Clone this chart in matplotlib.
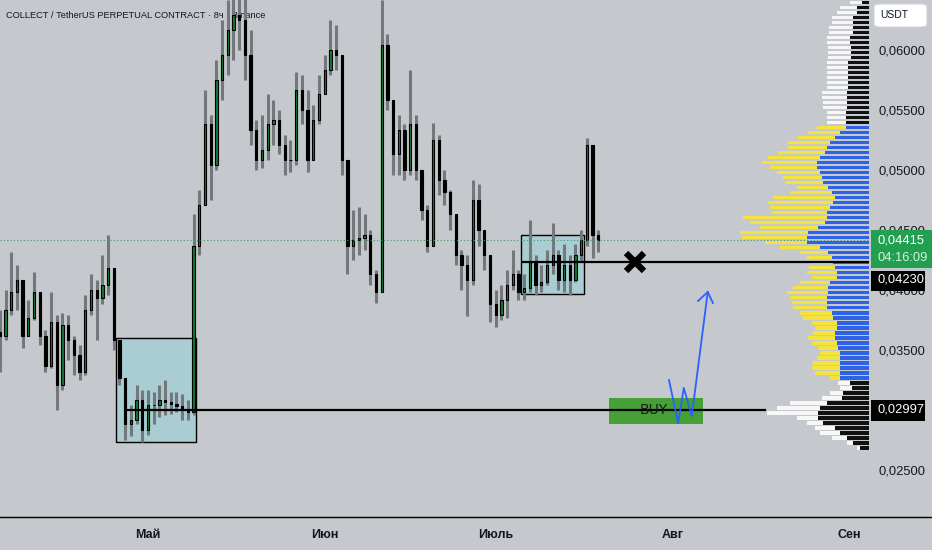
import numpy as np
import matplotlib.pyplot as plt
import matplotlib.transforms as mtransforms
from matplotlib.patches import Rectangle, FancyBboxPatch
from matplotlib.lines import Line2D

plt.rcParams['font.family'] = ['Liberation Sans', 'DejaVu Sans']

# ---------------------------------------------------------------
# Data (daily candles, day 0 = 1 May)
# ---------------------------------------------------------------
first_day = -26
first_open = 0.0365
closes = [0.0362, 0.0383, 0.0398, 0.0408, 0.0362, 0.0377, 0.0398, 0.0362, 0.0337, 0.0373,
          0.0321, 0.0371, 0.0358, 0.0346, 0.0332, 0.0383, 0.0400, 0.0393, 0.0404, 0.0418,
          0.0358, 0.0327, 0.0288, 0.0292, 0.0308, 0.0283, 0.0304, 0.0304, 0.0308, 0.0307,
          0.0305, 0.0303, 0.0300, 0.0298, 0.0437, 0.0471, 0.0538, 0.0504, 0.0575, 0.0596,
          0.0617, 0.0629, 0.0625, 0.0596, 0.0533, 0.0508, 0.0517, 0.0538, 0.0542, 0.0521,
          0.0508, 0.0508, 0.0567, 0.0550, 0.0508, 0.0542, 0.0563, 0.0583, 0.0600, 0.0596,
          0.0508, 0.0437, 0.0442, 0.0443, 0.0446, 0.0413, 0.0398, 0.0604, 0.0558, 0.0513,
          0.0533, 0.0500, 0.0538, 0.0500, 0.0467, 0.0437, 0.0525, 0.0492, 0.0482, 0.0463,
          0.0429, 0.0421, 0.0408, 0.0475, 0.0450, 0.0429, 0.0388, 0.0379, 0.0392, 0.0404,
          0.0413, 0.0398, 0.0402, 0.0423, 0.0404, 0.0407, 0.0421, 0.0429, 0.0408, 0.0421,
          0.0408, 0.0429, 0.0442, 0.0521, 0.0446, 0.04415]
highs = [0.0383, 0.0400, 0.0432, 0.0421, 0.0400, 0.0392, 0.0415, 0.0392, 0.0367, 0.0398,
         0.0379, 0.0381, 0.0379, 0.0362, 0.0354, 0.0396, 0.0413, 0.0408, 0.0429, 0.0446,
         0.0417, 0.0354, 0.0313, 0.0304, 0.0321, 0.0317, 0.0317, 0.0315, 0.0321, 0.0325,
         0.0315, 0.0315, 0.0313, 0.0308, 0.0463, 0.0483, 0.0567, 0.0546, 0.0592, 0.0625,
         0.0642, 0.0658, 0.0658, 0.0646, 0.0617, 0.0542, 0.0546, 0.0563, 0.0558, 0.0550,
         0.0529, 0.0525, 0.0582, 0.0579, 0.0567, 0.0554, 0.0579, 0.0596, 0.0625, 0.0621,
         0.0558, 0.0508, 0.0467, 0.0469, 0.0463, 0.0450, 0.0417, 0.0642, 0.0613, 0.0558,
         0.0546, 0.0538, 0.0583, 0.0546, 0.0492, 0.0471, 0.0539, 0.0529, 0.0500, 0.0483,
         0.0463, 0.0433, 0.0429, 0.0492, 0.0488, 0.0446, 0.0421, 0.0400, 0.0404, 0.0417,
         0.0433, 0.0417, 0.0413, 0.0458, 0.0429, 0.0421, 0.0433, 0.0456, 0.0433, 0.0438,
         0.0429, 0.0438, 0.0450, 0.0527, 0.0517, 0.0450]
lows = [0.0332, 0.0358, 0.0379, 0.0383, 0.0352, 0.0362, 0.0375, 0.0354, 0.0332, 0.0335,
        0.0300, 0.0317, 0.0342, 0.0329, 0.0325, 0.0329, 0.0379, 0.0358, 0.0388, 0.0396,
        0.0350, 0.0321, 0.0275, 0.0278, 0.0288, 0.0273, 0.0279, 0.0288, 0.0294, 0.0296,
        0.0297, 0.0298, 0.0292, 0.0292, 0.0296, 0.0429, 0.0471, 0.0475, 0.0500, 0.0558,
        0.0579, 0.0592, 0.0600, 0.0575, 0.0521, 0.0500, 0.0502, 0.0508, 0.0521, 0.0513,
        0.0496, 0.0498, 0.0504, 0.0538, 0.0498, 0.0525, 0.0538, 0.0563, 0.0579, 0.0583,
        0.0496, 0.0413, 0.0425, 0.0429, 0.0433, 0.0404, 0.0389, 0.0400, 0.0550, 0.0496,
        0.0496, 0.0492, 0.0496, 0.0492, 0.0458, 0.0432, 0.0437, 0.0479, 0.0471, 0.0450,
        0.0421, 0.0400, 0.0378, 0.0404, 0.0437, 0.0417, 0.0373, 0.0369, 0.0375, 0.0377,
        0.0400, 0.0392, 0.0392, 0.0398, 0.0396, 0.0398, 0.0404, 0.0413, 0.0400, 0.0398,
        0.0396, 0.0407, 0.0423, 0.0437, 0.0427, 0.0432]

# volume profile rows (top row first), arbitrary volume units
vp_top = 0.06417
vp_step = 0.000417
vp_up = [7, 12, 12, 16, 16, 16, 16, 19, 19, 18, 18, 18, 21, 21, 21, 21, 21, 21, 22, 22,
         22, 22, 23, 23, 23,
         23, 29, 34, 39, 42, 44, 49, 52, 52, 49, 47, 46, 41, 37, 34, 36, 39, 42, 42, 44,
         51, 61, 62, 62, 49, 41, 37, 36, 34, 32, 32, 39, 41, 41, 42, 42, 42, 37, 36, 32,
         32, 34, 34, 32, 31, 29, 29, 29, 29, 29, 29,
         19, 17, 26, 27, 42, 49, 51, 51, 46, 34, 29, 22, 16, 9]
vp_down = [12, 17, 20, 21, 21, 24, 24, 23, 23, 23, 23, 23, 21, 21, 21, 21, 21, 21, 25, 25,
           24, 24, 19, 19, 19,
           29, 32, 37, 42, 39, 47, 52, 55, 47, 43, 39, 38, 31, 42, 62, 65, 60, 55, 84, 75,
           58, 68, 65, 42, 40, 28, 25, 23, 26, 30, 25, 30, 35, 41, 37, 35, 34, 32, 30, 25,
           22, 22, 27, 25, 20, 20, 23, 27, 28, 25, 10,
           12, 12, 13, 20, 37, 43, 51, 21, 16, 20, 20, 15, 6, 3]
va_first, va_last = 25, 75

month_days = [0, 31, 61, 92, 123]
month_names = ['Май', 'Июн', 'Июль', 'Авг', 'Сен']
price_ticks = [0.025, 0.030, 0.035, 0.040, 0.045, 0.050, 0.055, 0.060]

last_price = 0.04415
level_x = 0.04230
level_buy = 0.02997

box1 = (-5.7, 8.4, 0.0273, 0.0360)
box2 = (65.4, 76.5, 0.0397, 0.0446)
buy_box = (80.9, 97.4, 0.02884, 0.03100)
path_days = [91.4, 93.0, 94.0, 95.4, 98.2]
path_prices = [0.03250, 0.02892, 0.03184, 0.02950, 0.03984]

# ---------------------------------------------------------------
bg = '#c5c8cc'
W, H = 932, 550
fig = plt.figure(figsize=(W / 100, H / 100), dpi=100)
fig.patch.set_facecolor(bg)
ax = fig.add_axes([0, 33 / H, 869 / W, 517 / H])
ax.patch.set_visible(False)
ax.set_xlim(-148 / 5.7, 721 / 5.7)
ax.set_ylim(0.06417 - 517 / 12000, 0.06417)
for s in ax.spines.values():
    s.set_visible(False)

# volume profile behind everything
vp = ax.twiny()
vp.set_xlim(0, 869)
vp.axis('off')
ax.set_zorder(2)
vp.set_zorder(1)
vp_prices = vp_top - vp_step * (np.arange(len(vp_up)) + 0.5)
up_v = np.array(vp_up)
dn_v = np.array(vp_down)
in_va = (np.arange(len(vp_up)) >= va_first) & (np.arange(len(vp_up)) <= va_last)
col_in = np.where(in_va, '#2f63e6', '#111111')
col_out = np.where(in_va, '#f3e33a', '#f7f7f7')
vp.barh(vp_prices, -up_v, left=869, height=vp_step * 0.7, color=col_in, lw=0)
vp.barh(vp_prices, -dn_v, left=869 - up_v, height=vp_step * 0.7, color=col_out, lw=0)

# title
ax.text(6 / 869, 1 - 15 / 517, 'COLLECT / TetherUS PERPETUAL CONTRACT · 8ч · Binance',
        transform=ax.transAxes, fontsize=6.7, color='#131722', va='center', zorder=1)

# rectangles drawn by user
for x0, x1, y0, y1 in (box1, box2):
    ax.add_patch(Rectangle((x0, y0), x1 - x0, y1 - y0, facecolor='#a9cdd3',
                           edgecolor='black', lw=1, zorder=2))

# candles
c = np.array(closes)
h = np.array(highs)
l = np.array(lows)
o = np.r_[first_open, c[:-1]]
days = np.arange(first_day, first_day + len(c))
rise = c >= o
ax.vlines(days, l, h, color='#74777c', lw=2.2, zorder=3)
body = np.maximum(np.abs(c - o), 0.00006)
ax.bar(days[rise], body[rise], bottom=o[rise], width=0.4, color='#127a36',
       edgecolor='black', lw=0.8, zorder=4)
ax.bar(days[~rise], body[~rise], bottom=c[~rise], width=0.4, color='black',
       edgecolor='black', lw=0.8, zorder=4)

# levels
ax.axhline(last_price, color='#3f9a6a', lw=0.8, ls=(0, (1, 2)), zorder=5)
ax.plot([box2[0] + 0.4, ax.get_xlim()[1]], [level_x, level_x], color='black', lw=1.6, zorder=5)
ax.plot([-3.5, 108.2], [level_buy, level_buy], color='black', lw=1.6, zorder=5)

# buy zone + blue path + X
bx0, bx1, by0, by1 = buy_box
ax.add_patch(Rectangle((bx0, by0), bx1 - bx0, by1 - by0, facecolor='#45a035',
                       edgecolor='none', zorder=4))
ax.text((bx0 + bx1) / 2 - 0.4, level_buy, 'BUY', ha='center', va='center',
        fontsize=10, family='DejaVu Sans', color='#1a1a1a', zorder=6)
ax.plot(path_days, path_prices, color='#2962ff', lw=1.3, zorder=7)
ax.plot([96.5, path_days[-1], 99.1], [0.03909, path_prices[-1], 0.03892],
        color='#2962ff', lw=1.3, zorder=7)
ax.plot([85.4], [level_x], marker='x', ms=13, mew=4.5, color='black', zorder=7)

# axes ticks
ax.set_xticks(month_days)
ax.set_xticklabels(month_names, fontsize=9, fontweight='bold', color='#131722')
ax.tick_params(axis='x', length=0, pad=9)
ax.yaxis.tick_right()
ax.set_yticks(price_ticks)
ax.set_yticklabels([f'{v:.5f}'.replace('.', ',') for v in price_ticks])
ax.tick_params(axis='y', length=0, pad=6.5, labelsize=9.3, labelcolor='#131722')

fig.add_artist(Line2D([0, 1], [33 / H, 33 / H], transform=fig.transFigure,
                      color='black', lw=1))

# price-scale labels
trans = mtransforms.blended_transform_factory(fig.transFigure, ax.transData)
px = 1 / 12000


def scale_label(y_top_px, y_bot_px, x0_px, x1_px, color):
    y0 = 0.06417 - y_bot_px * px
    r = Rectangle((x0_px / W, y0), (x1_px - x0_px) / W, (y_bot_px - y_top_px) * px,
                  transform=trans, facecolor=color, edgecolor='none', clip_on=False, zorder=10)
    ax.add_patch(r)


scale_label(230, 268, 871, 932, '#22a04f')
ax.text(878 / W, 0.06417 - 240 * px, f'{last_price:.5f}'.replace('.', ','), transform=trans,
        color='white', fontsize=9.3, va='center', clip_on=False, zorder=11)
ax.text(878 / W, 0.06417 - 258 * px, '04:16:09', transform=trans,
        color='#d4f2dc', fontsize=9.3, va='center', clip_on=False, zorder=11)
scale_label(271, 291, 871, 925, 'black')
ax.text(878 / W, 0.06417 - 280 * px, f'{level_x:.5f}'.replace('.', ','), transform=trans,
        color='white', fontsize=9.3, va='center', clip_on=False, zorder=11)
scale_label(400, 421, 871, 925, 'black')
ax.text(878 / W, 0.06417 - 410 * px, f'{level_buy:.5f}'.replace('.', ','), transform=trans,
        color='white', fontsize=9.3, va='center', clip_on=False, zorder=11)

usdt = FancyBboxPatch((874 / W, 1 - 27 / H), 53 / W, 23 / H, boxstyle='round,pad=0,rounding_size=0.006',
                      transform=fig.transFigure, facecolor='white', edgecolor='#d0d3d8', lw=0.8)
fig.add_artist(usdt)
fig.text(880 / W, 1 - 15.5 / H, 'USDT', fontsize=7.5, color='#131722', va='center')

fig.savefig('out.png', dpi=100, facecolor=bg)
